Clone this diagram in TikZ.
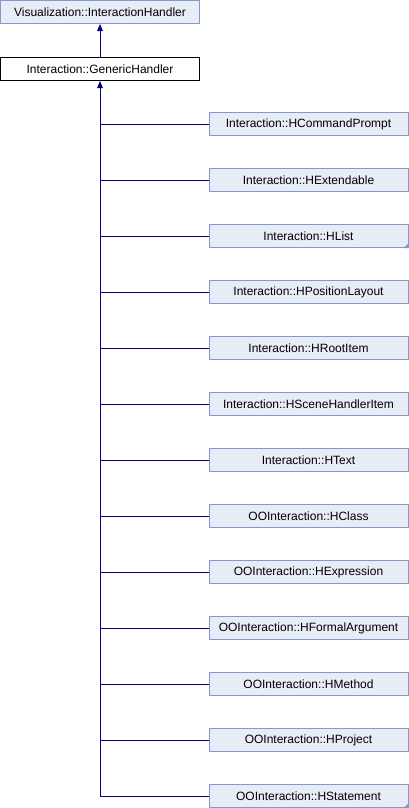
\documentclass[tikz,border=0pt]{standalone}
\usepackage{fontspec}
\setmainfont{Liberation Sans}
\usetikzlibrary{arrows.meta}
\definecolor{boxfill}{RGB}{232,236,246}
\definecolor{boxline}{RGB}{132,152,204}
\definecolor{edgecol}{RGB}{0,0,128}
\begin{document}
\begin{tikzpicture}[x=0.75pt,y=-0.75pt,
  cls/.style={draw=boxline,fill=boxfill,line width=0.75pt,minimum width=149.25pt,minimum height=17.25pt,inner sep=0pt,font=\fontsize{9pt}{10pt}\selectfont,anchor=center},
  cur/.style={cls,draw=black,fill=white},
  edge/.style={draw=edgecol,line width=0.75pt},
  tip/.style={-{Triangle[length=5.25pt,width=4.2pt]}},
  more/.style={fill=boxline,draw=none}]
\useasboundingbox (0,0) rectangle (408,808);
\node[cls] (vis) at (100,12) {Visualization::InteractionHandler};
\node[cur] (gh) at (100,69) {Interaction::GenericHandler};
\node[cls] (c1) at (308.5,124) {Interaction::HCommandPrompt};
\node[cls] (c2) at (308.5,180) {Interaction::HExtendable};
\node[cls] (c3) at (308.5,236) {Interaction::HList};
\node[cls] (c4) at (308.5,292) {Interaction::HPositionLayout};
\node[cls] (c5) at (308.5,348) {Interaction::HRootItem};
\node[cls] (c6) at (308.5,404) {Interaction::HSceneHandlerItem};
\node[cls] (c7) at (308.5,460) {Interaction::HText};
\node[cls] (c8) at (308.5,516) {OOInteraction::HClass};
\node[cls] (c9) at (308.5,572) {OOInteraction::HExpression};
\node[cls] (c10) at (308.5,628) {OOInteraction::HFormalArgument};
\node[cls] (c11) at (308.5,684) {OOInteraction::HMethod};
\node[cls] (c12) at (308.5,740) {OOInteraction::HProject};
\node[cls] (c13) at (308.5,796) {OOInteraction::HStatement};
\fill[more] (c3.south east) -- ++(0,-5) -- ++(-5,5) -- cycle;
\fill[more] (c13.south east) -- ++(0,-5) -- ++(-5,5) -- cycle;
\draw[edge,tip] (gh.north) -- (vis.south);
\draw[edge,tip] (gh.south |- c13.west) -- (gh.south);
\foreach \i in {1,...,13} {
  \draw[edge] (gh.south |- c\i.west) -- (c\i.west);
}
\end{tikzpicture}
\end{document}
